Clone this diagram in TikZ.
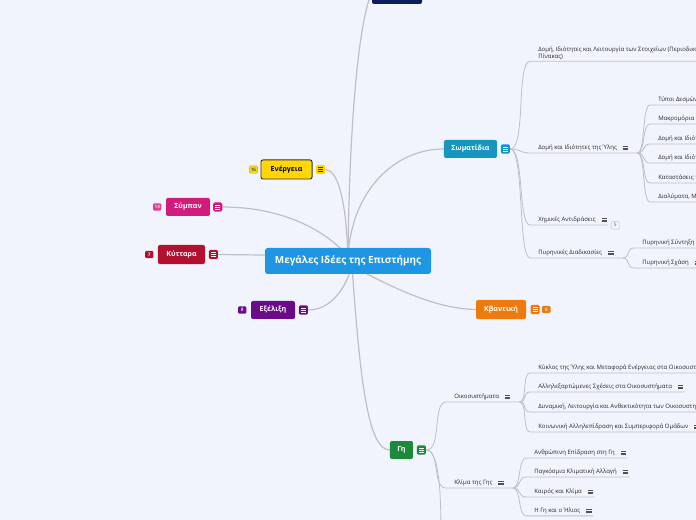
\documentclass[tikz,border=0pt]{standalone}
\usepackage{fontspec}
\setmainfont{Open Sans}
\usepackage{tikz}
\usetikzlibrary{positioning,backgrounds}
\usepackage{xcolor}
\definecolor{bgcol}{RGB}{242,244,253}
\definecolor{linegrey}{RGB}{190,192,198}
\definecolor{menugrey}{RGB}{80,80,86}
\definecolor{leaftext}{RGB}{40,40,46}
\definecolor{ideablue}{RGB}{30,150,228}
\definecolor{navy}{RGB}{12,30,90}
\definecolor{energyyellow}{RGB}{255,214,10}
\definecolor{universepink}{RGB}{210,28,124}
\definecolor{cellred}{RGB}{178,16,46}
\definecolor{evopurple}{RGB}{106,12,138}
\definecolor{particleteal}{RGB}{22,150,190}
\definecolor{quantumorange}{RGB}{238,122,14}
\definecolor{earthgreen}{RGB}{28,138,58}

\begin{document}
\begin{tikzpicture}[x=0.75pt, y=-0.75pt,
    topic/.style={rectangle, rounded corners=1.5pt, fill=#1, text=white,
        inner sep=0pt, minimum height=13.5pt, font=\fontsize{5.3}{6}\selectfont\bfseries},
    menu/.style 2 args={rectangle, rounded corners=1pt, fill=#1, inner sep=0pt,
        minimum size=6.8pt,
        path picture={\foreach \k in {-1.4pt,0pt,1.4pt}
            \draw[#2, line width=0.5pt] ([xshift=1.5pt,yshift=\k]path picture bounding box.west)
                -- ([xshift=-1.5pt,yshift=\k]path picture bounding box.east);}},
    leafmenu/.style={rectangle, inner sep=0pt, minimum width=5.3pt, minimum height=4.8pt,
        path picture={\foreach \k in {-1.2pt,0pt,1.2pt}
            \draw[menugrey, line width=0.4pt] ([xshift=0.6pt,yshift=\k]path picture bounding box.west)
                -- ([xshift=-0.6pt,yshift=\k]path picture bounding box.east);}},
    badge/.style 2 args={rectangle, rounded corners=1pt, fill=#1, text=#2, inner sep=0.8pt,
        minimum width=6.3pt, minimum height=5.6pt, font=\fontsize{3.5}{4}\selectfont\bfseries},
    leaf/.style={anchor=west, inner xsep=0pt, inner ysep=1.2pt, text=leaftext,
        font=\fontsize{4.5}{5.2}\selectfont},
    limb/.style={draw=linegrey, line width=0.9pt},
    twig/.style={draw=linegrey, line width=0.6pt}
]
    \useasboundingbox (0,0) rectangle (696,520);

    % main topics
    \node[topic=ideablue, minimum width=124.5pt, minimum height=19.5pt, rounded corners=2pt,
        font=\fontsize{7.4}{8}\selectfont\bfseries] (ideas) at (348,261) {Μεγάλες Ιδέες της Επιστήμης};
    \node[topic=navy, minimum width=37.5pt, minimum height=18pt] (topbox) at (397,-8) {};

    \node[topic=energyyellow, text=black, draw=black!80, line width=0.7pt,
        minimum width=38.3pt, minimum height=14.3pt] (energy) at (286.5,169.5) {Ενέργεια};
    \node[menu={energyyellow}{black!80}, right=2.5pt of energy] (energym) {};
    \node[badge={energyyellow}{black!65}, draw=black!40, line width=0.3pt, left=2pt of energy] (energyn) {16};

    \node[topic=universepink, minimum width=33pt] (universe) at (188,207) {Σύμπαν};
    \node[menu={universepink}{white}, right=2pt of universe] (universem) {};
    \node[badge={universepink!85}{white!80!universepink}, left=3pt of universe] (universen) {14};

    \node[topic=cellred, minimum width=35.3pt, minimum height=14.3pt] (cells) at (181.5,254.5) {Κύτταρα};
    \node[menu={cellred}{white}, right=2.5pt of cells] (cellsm) {};
    \node[badge={cellred}{white!85!cellred}, left=3pt of cells] (cellsn) {7};

    \node[topic=evopurple, minimum width=33pt] (evolution) at (273,310) {Εξέλιξη};
    \node[menu={evopurple}{white}, right=2.5pt of evolution] (evolutionm) {};
    \node[badge={evopurple}{white!80!evopurple}, left=3pt of evolution] (evolutionn) {8};

    \node[topic=particleteal, minimum width=39.8pt] (particles) at (470.5,149) {Σωματίδια};
    \node[menu={particleteal}{white}, right=2.5pt of particles] (particlesm) {};

    \node[topic=quantumorange, minimum width=37.5pt, minimum height=14.3pt] (quantum) at (501,309.5) {Κβαντική};
    \node[menu={quantumorange}{white}, right=3pt of quantum] (quantumm) {};
    \node[badge={quantumorange}{white!80!quantumorange}, right=1.5pt of quantumm] (quantumn) {6};

    \node[topic=earthgreen, minimum width=17.3pt] (earth) at (401.5,450) {Γη};
    \node[menu={earthgreen}{white}, right=2.5pt of earth] (earthm) {};

    % Σωματίδια
    \node[leaf, align=left] (elements) at (538,53)
        {Δομή, Ιδιότητες και Λειτουργία των Στοιχείων (Περιοδικός\\Πίνακας)};
    \node[leaf] (matter) at (538,148) {Δομή και Ιδιότητες της Ύλης};
    \node[leafmenu, right=3.5pt of matter] (matterm) {};
    \node[leaf] (reactions) at (538,220) {Χημικές Αντιδράσεις};
    \node[leafmenu, right=3.5pt of reactions] (reactionsm) {};
    \node[badge={bgcol}{black!40}, draw=black!25, line width=0.3pt,
        right=2pt of reactionsm, yshift=-4pt] (reactionsn) {5};
    \node[leaf] (nuclear) at (538,253) {Πυρηνικές Διαδικασίες};
    \node[leafmenu, right=3.5pt of nuclear] (nuclearm) {};

    \node[leaf] (bonds) at (658,100) {Τύποι Δεσμών};
    \node[leaf] (macromol) at (658,119) {Μακρομόρια};
    \node[leaf] (atoms) at (658,139) {Δομή και Ιδιότητες των Ατόμων};
    \node[leaf] (molecules) at (658,158) {Δομή και Ιδιότητες των Μορίων};
    \node[leaf] (states) at (658,178) {Καταστάσεις της Ύλης};
    \node[leaf] (mixtures) at (658,197) {Διαλύματα, Μίγματα και Κολλοειδή};

    \node[leaf] (fusion) at (642,243) {Πυρηνική Σύντηξη};
    \node[leaf] (fission) at (642,263) {Πυρηνική Σχάση};
    \node[leafmenu, right=3.5pt of fission] (fissionm) {};

    % Γη
    \node[leaf] (eco) at (454,397) {Οικοσυστήματα};
    \node[leafmenu, right=3.5pt of eco] (ecom) {};
    \node[leaf] (climate) at (454,483) {Κλίμα της Γης};
    \node[leafmenu, right=3.5pt of climate] (climatem) {};

    \node[leaf] (cycle) at (538,368) {Κύκλος της Ύλης και Μεταφορά Ενέργειας στα Οικοσυστήματα};
    \node[leaf] (interdep) at (538,387) {Αλληλεξαρτώμενες Σχέσεις στα Οικοσυστήματα};
    \node[leafmenu, right=3.5pt of interdep] (interdepm) {};
    \node[leaf] (dynamics) at (538,407) {Δυναμική, Λειτουργία και Ανθεκτικότητα των Οικοσυστημάτων};
    \node[leaf] (social) at (538,427) {Κοινωνική Αλληλεπίδραση και Συμπεριφορά Ομάδων};
    \node[leafmenu, right=3.5pt of social] (socialm) {};

    \node[leaf] (impact) at (534,453) {Ανθρώπινη Επίδραση στη Γη};
    \node[leafmenu, right=3.5pt of impact] (impactm) {};
    \node[leaf] (change) at (534,472) {Παγκόσμια Κλιματική Αλλαγή};
    \node[leafmenu, right=3.5pt of change] (changem) {};
    \node[leaf] (weather) at (534,492) {Καιρός και Κλίμα};
    \node[leafmenu, right=3.5pt of weather] (weatherm) {};
    \node[leaf] (sun) at (534,511) {Η Γη και ο Ήλιος};
    \node[leafmenu, right=3.5pt of sun] (sunm) {};

    \coordinate (matterend) at ([xshift=6pt]matterm.east |- matter.south);
    \coordinate (nuclearend) at ([xshift=6pt]nuclearm.east |- nuclear.south);
    \coordinate (ecoend) at ([xshift=6pt]ecom.east |- eco.south);
    \coordinate (climateend) at ([xshift=6pt]climatem.east |- climate.south);
    \coordinate (earthmore) at (441,540);

    % sub branches
    \draw[twig] (particlesm.east) .. controls +(16,0) and +(-14,0) .. ([xshift=-6pt]elements.south west)
        -- ([xshift=200pt]elements.south west);
    \draw[twig] (particlesm.east) .. controls +(10,0) and +(-10,0) .. ([xshift=-6pt]matter.south west) -- (matterend);
    \draw[twig] (particlesm.east) .. controls +(14,0) and +(-12,0) .. ([xshift=-6pt]reactions.south west)
        -- (reactionsm.east |- reactions.south);
    \draw[twig] (particlesm.east) .. controls +(14,0) and +(-12,0) .. ([xshift=-6pt]nuclear.south west) -- (nuclearend);

    \draw[twig] (matterend) .. controls +(8,0) and +(-8,0) .. ([xshift=-6pt]bonds.south west) -- ([xshift=60pt]bonds.south west);
    \draw[twig] (matterend) .. controls +(8,0) and +(-8,0) .. ([xshift=-6pt]macromol.south west) -- ([xshift=60pt]macromol.south west);
    \draw[twig] (matterend) .. controls +(8,0) and +(-8,0) .. ([xshift=-6pt]atoms.south west) -- ([xshift=60pt]atoms.south west);
    \draw[twig] (matterend) .. controls +(8,0) and +(-8,0) .. ([xshift=-6pt]molecules.south west) -- ([xshift=60pt]molecules.south west);
    \draw[twig] (matterend) .. controls +(8,0) and +(-8,0) .. ([xshift=-6pt]states.south west) -- ([xshift=60pt]states.south west);
    \draw[twig] (matterend) .. controls +(8,0) and +(-8,0) .. ([xshift=-6pt]mixtures.south west) -- ([xshift=60pt]mixtures.south west);

    \draw[twig] (nuclearend) .. controls +(8,0) and +(-8,0) .. ([xshift=-6pt]fusion.south west) -- ([xshift=3pt]fusion.south east);
    \draw[twig] (nuclearend) .. controls +(8,0) and +(-8,0) .. ([xshift=-6pt]fission.south west) -- (fissionm.east |- fission.south);

    \draw[twig] (earthm.east) .. controls +(16,0) and +(-14,0) .. ([xshift=-6pt]eco.south west) -- (ecoend);
    \draw[twig] (earthm.east) .. controls +(14,0) and +(-14,0) .. ([xshift=-6pt]climate.south west) -- (climateend);
    \draw[twig] (earthm.east) .. controls +(14,0) and +(0,-40) .. (earthmore);

    \draw[twig] (ecoend) .. controls +(8,0) and +(-8,0) .. ([xshift=-6pt]cycle.south west) -- ([xshift=3pt]cycle.south east);
    \draw[twig] (ecoend) .. controls +(8,0) and +(-8,0) .. ([xshift=-6pt]interdep.south west) -- (interdepm.east |- interdep.south);
    \draw[twig] (ecoend) .. controls +(8,0) and +(-8,0) .. ([xshift=-6pt]dynamics.south west) -- ([xshift=3pt]dynamics.south east);
    \draw[twig] (ecoend) .. controls +(8,0) and +(-8,0) .. ([xshift=-6pt]social.south west) -- (socialm.east |- social.south);

    \draw[twig] (climateend) .. controls +(8,0) and +(-8,0) .. ([xshift=-6pt]impact.south west) -- (impactm.east |- impact.south);
    \draw[twig] (climateend) .. controls +(8,0) and +(-8,0) .. ([xshift=-6pt]change.south west) -- (changem.east |- change.south);
    \draw[twig] (climateend) .. controls +(8,0) and +(-8,0) .. ([xshift=-6pt]weather.south west) -- (weatherm.east |- weather.south);
    \draw[twig] (climateend) .. controls +(8,0) and +(-8,0) .. ([xshift=-6pt]sun.south west) -- (sunm.east |- sun.south);

    % main branches under the nodes
    \begin{pgfonlayer}{background}
        \fill[bgcol] (0,0) rectangle (696,520);
        \coordinate (hub) at (348,256);
        \coordinate (hubs) at (352,266);
        \draw[limb] (hub) .. controls (349,150) and (356,30) .. (topbox.west);
        \draw[limb] (hub) .. controls (352,190) and (395,149) .. (particles.west);
        \draw[limb] (energym.east) .. controls (338,170) and (346,200) .. (hub);
        \draw[limb] (universem.east) .. controls (275,207) and (320,225) .. (hub);
        \draw[limb] (cellsm.east) -- (hub);
        \draw[limb] (evolutionm.east) .. controls (330,310) and (345,290) .. (hubs);
        \draw[limb] (hubs) .. controls (400,292) and (440,309) .. (quantum.west);
        \draw[limb] (hubs) .. controls (360,380) and (368,450) .. (earth.west);
    \end{pgfonlayer}
\end{tikzpicture}
\end{document}
